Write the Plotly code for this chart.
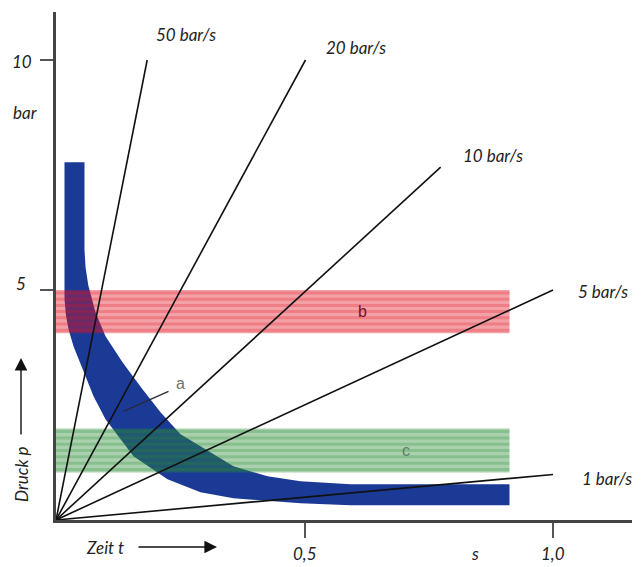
import plotly.graph_objects as go

# ---------------- data ----------------
rate_labels = ["50 bar/s", "20 bar/s", "10 bar/s", "5 bar/s", "1 bar/s"]
line_t_end = [0.1835, 0.502, 0.774, 1.0, 1.0]          # s
line_p_end = [10.0, 10.0, 7.67, 5.0, 0.99]             # bar
label_t = [0.262, 0.604, 0.880, 1.100, 1.108]
label_p = [10.56, 10.28, 7.93, 4.97, 0.90]

# band a (blue, hyperbola-like band): inner and outer edges
a_inner_t = [0.0573, 0.0573, 0.0594, 0.0650, 0.0795, 0.0996, 0.1338, 0.1740, 0.2103,
             0.2505, 0.2907, 0.3571, 0.4256, 0.4920, 0.5926, 0.9125]
a_inner_p = [7.776, 5.885, 5.500, 5.100, 4.515, 3.993, 3.428, 2.841, 2.341,
             1.863, 1.602, 1.167, 0.950, 0.841, 0.776, 0.776]
a_outer_t = [0.0171, 0.0171, 0.0200, 0.0252, 0.0352, 0.0533, 0.0755, 0.0996, 0.1559,
             0.2243, 0.2907, 0.3571, 0.4920, 0.5926, 0.9125]
a_outer_p = [7.776, 4.798, 4.450, 4.146, 3.776, 3.276, 2.689, 2.189, 1.385,
             0.885, 0.602, 0.472, 0.363, 0.320, 0.320]

# bands b (red) and c (green): pressure range and end time
band_b_p = [4.06, 5.0]
band_c_p = [1.03, 1.99]
band_t_end = 0.9125

band_letters = ["a", "b", "c"]
letter_t = [0.2505, 0.6167, 0.7052]
letter_p = [2.97, 4.54, 1.52]
leader_a_t = [0.1358, 0.2264]
leader_a_p = [2.363, 2.798]

x_tickvals = [0.5, 1.0]
x_ticktext = ["0,5", "1,0"]
y_tickvals = [5, 10]
y_ticktext = ["5", "10"]

# ---------------- figure ----------------
FONT = "Lato"
PX_L, PX_B, PW, PH = 56, 520, 576, 508   # plot area in page pixels


def paper_x(px):
    return (px - PX_L) / PW


def paper_y(py):
    return (PX_B - py) / PH


fig = go.Figure()

# band a
poly_t = a_inner_t + a_outer_t[::-1]
poly_p = a_inner_p + a_outer_p[::-1]
fig.add_trace(go.Scatter(x=poly_t, y=poly_p, fill="toself", fillcolor="#1b3a96",
                         mode="lines", line=dict(width=0, color="#1b3a96"),
                         hoverinfo="skip", showlegend=False))


def add_band(lo, hi, rgb):
    fig.add_trace(go.Scatter(x=[0, band_t_end, band_t_end, 0, 0], y=[lo, lo, hi, hi, lo],
                             fill="toself", fillcolor=f"rgba({rgb},0.40)",
                             mode="lines", line=dict(width=0),
                             hoverinfo="skip", showlegend=False))
    n = 7
    xs, ys = [], []
    for i in range(n):
        yy = lo + (hi - lo) * (i + 0.5) / n
        xs += [0, band_t_end, None]
        ys += [yy, yy, None]
    fig.add_trace(go.Scatter(x=xs, y=ys, mode="lines",
                             line=dict(width=3, color=f"rgba({rgb},0.25)"),
                             hoverinfo="skip", showlegend=False))


add_band(band_b_p[0], band_b_p[1], "225,20,35")
add_band(band_c_p[0], band_c_p[1], "40,140,50")

# rate lines
for te, pe in zip(line_t_end, line_p_end):
    fig.add_trace(go.Scatter(x=[0, te], y=[0, pe], mode="lines",
                             line=dict(color="#111111", width=1.6),
                             hoverinfo="skip", showlegend=False))

# leader for a
fig.add_trace(go.Scatter(x=leader_a_t, y=leader_a_p, mode="lines",
                         line=dict(color="#2a2a3a", width=1.3),
                         hoverinfo="skip", showlegend=False))

TXT = dict(family=FONT, size=17, color="#222")
ann = []
for lab, t, p in zip(rate_labels, label_t, label_p):
    ann.append(dict(x=t, y=p, text=f"<i>{lab}</i>", showarrow=False, font=TXT,
                    xanchor="center", yanchor="middle"))

letter_colors = ["#707070", "#7a1020", "#5f7f5f"]
for lab, t, p, c in zip(band_letters, letter_t, letter_p, letter_colors):
    ann.append(dict(x=t, y=p, text=lab, showarrow=False, xanchor="center", yanchor="middle",
                    font=dict(family="Liberation Sans", size=16, color=c)))

# tick labels
for v, txt in zip(x_tickvals, x_ticktext):
    ann.append(dict(x=v, y=0, yshift=-33, text=f"<i>{txt}</i>", showarrow=False, font=TXT,
                    xanchor="center", yanchor="middle"))
ann.append(dict(x=0.844, y=0, yshift=-33, text="<i>s</i>", showarrow=False, font=TXT,
                xanchor="center", yanchor="middle"))
ann.append(dict(x=0, y=10, xshift=-34, yshift=-1, text="<i>10</i>", showarrow=False, font=TXT,
                xanchor="center", yanchor="middle"))
ann.append(dict(x=0, y=5, xshift=-35, yshift=7, text="<i>5</i>", showarrow=False, font=TXT,
                xanchor="center", yanchor="middle"))
ann.append(dict(x=0, y=8.85, xshift=-31, text="<i>bar</i>", showarrow=False, font=TXT,
                xanchor="center", yanchor="middle"))

# axis titles with arrows
ann.append(dict(x=paper_x(104.5), y=paper_y(547), xref="paper", yref="paper",
                xanchor="center", yanchor="middle",
                text="<i>Zeit t</i>", showarrow=False, font=TXT))
ann.append(dict(x=paper_x(217), y=paper_y(547), xref="paper", yref="paper",
                ax=-80, ay=0, text="", showarrow=True, arrowhead=2, arrowsize=1.8,
                arrowwidth=1.4, arrowcolor="#111"))
ann.append(dict(x=paper_x(21), y=paper_y(475), xref="paper", yref="paper",
                xanchor="center", yanchor="middle",
                text="<i>Druck p</i>", textangle=-90, showarrow=False, font=TXT))
ann.append(dict(x=paper_x(21), y=paper_y(358), xref="paper", yref="paper",
                ax=0, ay=78, text="", showarrow=True, arrowhead=2, arrowsize=1.8,
                arrowwidth=1.4, arrowcolor="#111"))

axis_common = dict(showgrid=False, zeroline=False, showline=True, linecolor="#444",
                   linewidth=3, ticks="outside", tickcolor="#555", tickwidth=1.5,
                   showticklabels=False)

# page has an 8px body margin, so the figure origin sits at page (8, 8)
fig.update_layout(
    width=636, height=559,
    margin=dict(l=PX_L - 8, r=636 - (PX_L - 8) - PW, t=4, b=559 - 4 - PH),
    plot_bgcolor="white", paper_bgcolor="white",
    xaxis=dict(range=[0, PW / 497], tickvals=x_tickvals, ticklen=15, **axis_common),
    yaxis=dict(range=[0, PH / 46], tickvals=y_tickvals, ticklen=13, **axis_common),
    annotations=ann,
    showlegend=False,
)

fig.write_html("out.html")
